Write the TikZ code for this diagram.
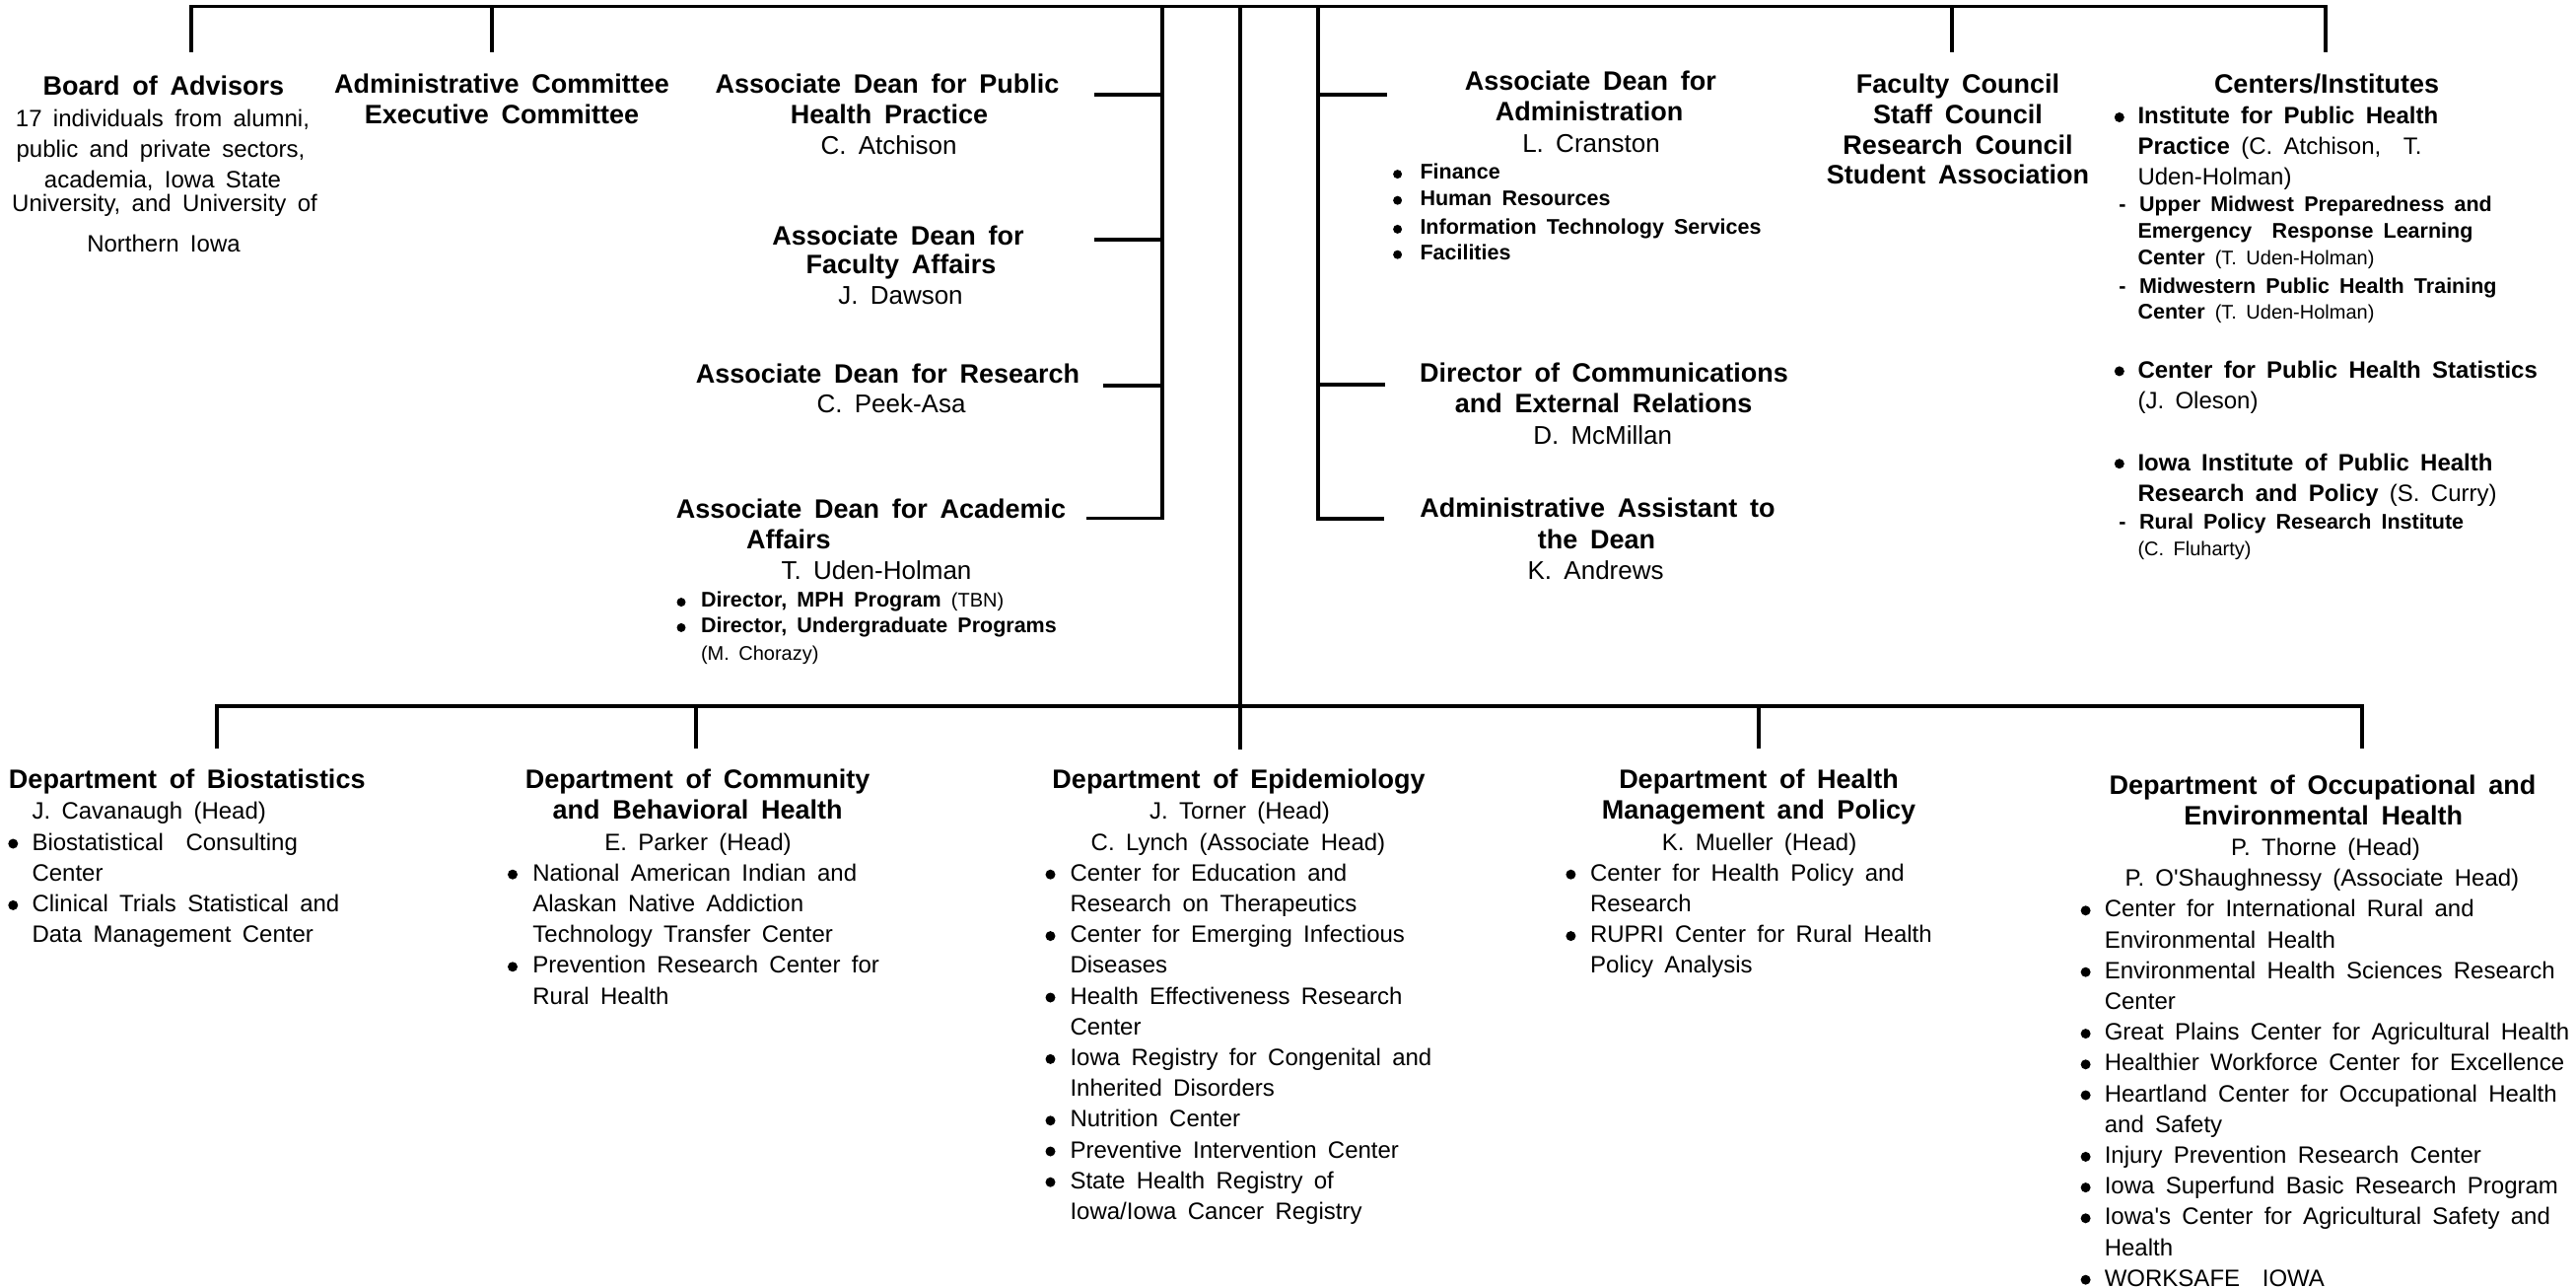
\documentclass[tikz,border=0pt]{standalone}
\usepackage{fontspec}
\setmainfont{Liberation Sans}[WordSpace=1.7,Ligatures=TeXOff]
\newcounter{ln}
\newcommand\T[5]{\stepcounter{ln}\node[#1,anchor=#2] (t\arabic{ln}) at (#3,#4) {#5};}
\newcommand\smreg{\fontsize{20}{27}\selectfont\mdseries}
\newcommand\txreg{\fontsize{24}{31}\selectfont\mdseries}
\tikzset{
  every node/.style={inner sep=0pt,outer sep=0pt},
  hd/.style={font=\fontsize{27}{31}\selectfont\bfseries},
  nm/.style={font=\fontsize{26}{31}\selectfont},
  tx/.style={font=\fontsize{24}{31}\selectfont},
  cb/.style={font=\fontsize{24}{31}\selectfont\bfseries},
  sb/.style={font=\fontsize{21.5}{27}\selectfont\bfseries},
  sr/.style={font=\fontsize{20}{27}\selectfont},
  wire/.style={line width=3.3pt,line join=miter},
}
\begin{document}
\begin{tikzpicture}[x=1pt,y=-1pt]
\fill[white] (0,0) rectangle (2613,1306);
\useasboundingbox (0,0) rectangle (2613,1306);

% ---------- connector coordinates ----------
\coordinate (bA) at (194,6.3);   \coordinate (bAd) at (194,53);
\coordinate (cA) at (499,6.3);   \coordinate (cAd) at (499,53);
\coordinate (lv) at (1179,6.3);  \coordinate (lvb) at (1179,525.5);
\coordinate (mv) at (1258,6.3);  \coordinate (mvb) at (1258,760);
\coordinate (rv) at (1337,6.3);  \coordinate (rvb) at (1337,526);
\coordinate (fc) at (1980,6.3);  \coordinate (fcd) at (1980,53);
\coordinate (ci) at (2359,6.3);  \coordinate (cid) at (2359,53);
\coordinate (s1a) at (1179,96);  \coordinate (s1) at (1110,96);
\coordinate (s2a) at (1179,243); \coordinate (s2) at (1110,243);
\coordinate (s3a) at (1179,391); \coordinate (s3) at (1119,391);
\coordinate (s4) at (1102,525.5);
\coordinate (r1a) at (1337,96);  \coordinate (r1) at (1407,96);
\coordinate (r2a) at (1337,390); \coordinate (r2) at (1405,390);
\coordinate (r3) at (1404,526);
\coordinate (d1) at (220,716);   \coordinate (d1d) at (220,759);
\coordinate (d2) at (706,716);   \coordinate (d2d) at (706,759);
\coordinate (d4) at (1784,716);  \coordinate (d4d) at (1784,759);
\coordinate (d5) at (2396,716);  \coordinate (d5d) at (2396,759);

\draw[wire] (bAd) -- (bA) -- (ci) -- (cid);
\draw[wire] (cA) -- (cAd);
\draw[wire] (fc) -- (fcd);
\draw[wire] (lv) -- (lvb) -- (s4);
\draw[wire] (s1a) -- (s1);
\draw[wire] (s2a) -- (s2);
\draw[wire] (s3a) -- (s3);
\draw[wire] (rv) -- (rvb) -- (r3);
\draw[wire] (r1a) -- (r1);
\draw[wire] (r2a) -- (r2);
\draw[wire] (mv) -- (mvb);
\draw[wire] (d1d) -- (d1) -- (d5) -- (d5d);
\draw[wire] (d2) -- (d2d);
\draw[wire] (d4) -- (d4d);

% ---------- Board of Advisors ----------
\T{hd}{base}{166}{96.5}{Board of Advisors}
\T{tx}{base}{165}{128}{17 individuals from alumni,}
\T{tx}{base}{163}{159.5}{public and private sectors,}
\T{tx}{base}{165}{190.8}{academia, Iowa State}
\T{tx}{base}{167}{214.5}{University, and University of}
\T{tx}{base}{166}{255}{Northern Iowa}

% ---------- Committees ----------
\T{hd}{base}{509}{94}{Administrative Committee}
\T{hd}{base}{509}{125.8}{Executive Committee}

% ---------- Left associate deans ----------
\T{hd}{base}{900}{94}{Associate Dean for Public}
\T{hd}{base}{902}{125.4}{Health Practice}
\T{nm}{base}{901.5}{156.6}{C. Atchison}

\T{hd}{base}{911}{248.2}{Associate Dean for}
\T{hd}{base}{914}{277}{Faculty Affairs}
\T{nm}{base}{913.5}{308}{J. Dawson}

\T{hd}{base}{900.6}{388}{Associate Dean for Research}
\T{nm}{base}{904}{418.6}{C. Peek-Asa}

\T{hd}{base}{883.6}{525}{Associate Dean for Academic}
\T{hd}{base}{800}{556}{Affairs}
\T{nm}{base}{889}{587.7}{T. Uden-Holman}
\T{sb}{base west}{711}{615.6}{Director, MPH Program {\smreg(TBN)}}
\T{sb}{base west}{711}{641.4}{Director, Undergraduate Programs}
\T{sr}{base west}{711}{669.7}{(M. Chorazy)}
\foreach \yy in {610.6,636.4} \fill (691,\yy) circle[radius=4.5];

% ---------- Right associate deans ----------
\T{hd}{base}{1613.4}{91.2}{Associate Dean for}
\T{hd}{base}{1612}{122}{Administration}
\T{nm}{base}{1614}{154}{L. Cranston}
\T{sb}{base west}{1440.5}{181.6}{Finance}
\T{sb}{base west}{1440.5}{208.2}{Human Resources}
\T{sb}{base west}{1440.5}{237.4}{Information Technology Services}
\T{sb}{base west}{1440.5}{263.2}{Facilities}
\foreach \yy in {176.6,203.2,232.4,258.2} \fill (1417.6,\yy) circle[radius=4.5];

\T{hd}{base}{1627}{387.3}{Director of Communications}
\T{hd}{base}{1626.7}{418.6}{and External Relations}
\T{nm}{base}{1625.7}{450.6}{D. McMillan}

\T{hd}{base}{1620.5}{524.8}{Administrative Assistant to}
\T{hd}{base}{1619.5}{556}{the Dean}
\T{nm}{base}{1618.6}{587.3}{K. Andrews}

% ---------- Councils ----------
\T{hd}{base}{1986}{95}{Faculty Council}
\T{hd}{base}{1986}{125}{Staff Council}
\T{hd}{base}{1986}{156}{Research Council}
\T{hd}{base}{1986}{186.6}{Student Association}

% ---------- Centers / Institutes ----------
\T{hd}{base}{2360}{94}{Centers/Institutes}
\T{cb}{base west}{2168.5}{125.8}{Institute for Public Health}
\T{cb}{base west}{2168.5}{156.6}{Practice {\txreg(C. Atchison,\ \ T.}}
\T{tx}{base west}{2168.5}{187.4}{Uden-Holman)}
\T{sb}{base west}{2149.4}{214.5}{-}
\T{sb}{base west}{2170}{214.5}{Upper Midwest Preparedness and}
\T{sb}{base west}{2168.5}{241.6}{Emergency\ \ Response Learning}
\T{sb}{base west}{2168.5}{268.6}{Center {\smreg(T. Uden-Holman)}}
\T{sb}{base west}{2149.4}{297}{-}
\T{sb}{base west}{2170}{297}{Midwestern Public Health Training}
\T{sb}{base west}{2168.5}{323.6}{Center {\smreg(T. Uden-Holman)}}
\T{cb}{base west}{2168.5}{383.2}{Center for Public Health Statistics}
\T{tx}{base west}{2168.5}{414.4}{(J. Oleson)}
\T{cb}{base west}{2168.5}{477}{Iowa Institute of Public Health}
\T{cb}{base west}{2168.5}{508}{Research and Policy {\txreg(S. Curry)}}
\T{sb}{base west}{2149.4}{536}{-}
\T{sb}{base west}{2170}{536}{Rural Policy Research Institute}
\T{sr}{base west}{2168.5}{563}{(C. Fluharty)}
\foreach \yy in {119,376.4,470.2} \fill (2149.8,\yy) circle[radius=5];

% ---------- Department of Biostatistics ----------
\T{hd}{base west}{9}{799.6}{Department of Biostatistics}
\T{tx}{base west}{32.5}{830.8}{J. Cavanaugh (Head)}
\T{tx}{base west}{32.5}{862}{Biostatistical\ \ Consulting}
\T{tx}{base west}{32.5}{893.2}{Center}
\T{tx}{base west}{32.5}{924.4}{Clinical Trials Statistical and}
\T{tx}{base west}{32.5}{955.6}{Data Management Center}
\foreach \yy in {855.5,917.9} \fill (13.3,\yy) circle[radius=5];

% ---------- Department of Community and Behavioral Health ----------
\T{hd}{base}{707.6}{799.6}{Department of Community}
\T{hd}{base}{707.6}{830.8}{and Behavioral Health}
\T{tx}{base}{708}{862}{E. Parker (Head)}
\T{tx}{base west}{540.4}{893.2}{National American Indian and}
\T{tx}{base west}{540.4}{924.4}{Alaskan Native Addiction}
\T{tx}{base west}{540.4}{955.6}{Technology Transfer Center}
\T{tx}{base west}{540.4}{986.8}{Prevention Research Center for}
\T{tx}{base west}{540.4}{1018}{Rural Health}
\foreach \yy in {886.7,980.3} \fill (520,\yy) circle[radius=5];

% ---------- Department of Epidemiology ----------
\T{hd}{base}{1256.5}{799.6}{Department of Epidemiology}
\T{tx}{base}{1257.5}{830.8}{J. Torner (Head)}
\T{tx}{base}{1256}{862}{C. Lynch (Associate Head)}
\T{tx}{base west}{1085.5}{893.2}{Center for Education and}
\T{tx}{base west}{1085.5}{924.4}{Research on Therapeutics}
\T{tx}{base west}{1085.5}{955.6}{Center for Emerging Infectious}
\T{tx}{base west}{1085.5}{986.8}{Diseases}
\T{tx}{base west}{1085.5}{1018}{Health Effectiveness Research}
\T{tx}{base west}{1085.5}{1049.2}{Center}
\T{tx}{base west}{1085.5}{1080.4}{Iowa Registry for Congenital and}
\T{tx}{base west}{1085.5}{1111.6}{Inherited Disorders}
\T{tx}{base west}{1085.5}{1142.8}{Nutrition Center}
\T{tx}{base west}{1085.5}{1174}{Preventive Intervention Center}
\T{tx}{base west}{1085.5}{1205.2}{State Health Registry of}
\T{tx}{base west}{1085.5}{1236.4}{Iowa/Iowa Cancer Registry}
\foreach \yy in {886.7,949.1,1011.5,1073.9,1136.3,1167.5,1198.7} \fill (1065.5,\yy) circle[radius=5];

% ---------- Department of Health Management and Policy ----------
\T{hd}{base}{1784}{799.6}{Department of Health}
\T{hd}{base}{1784}{830.8}{Management and Policy}
\T{tx}{base}{1784.6}{862}{K. Mueller (Head)}
\T{tx}{base west}{1613}{893.2}{Center for Health Policy and}
\T{tx}{base west}{1613}{924.4}{Research}
\T{tx}{base west}{1613}{955.6}{RUPRI Center for Rural Health}
\T{tx}{base west}{1613}{986.8}{Policy Analysis}
\foreach \yy in {886.7,949.1} \fill (1593.4,\yy) circle[radius=5];

% ---------- Department of Occupational and Environmental Health ----------
\T{hd}{base}{2356}{805}{Department of Occupational and}
\T{hd}{base}{2356.7}{836.2}{Environmental Health}
\T{tx}{base}{2359}{867.4}{P. Thorne (Head)}
\T{tx}{base}{2355.4}{898.6}{P. O'Shaughnessy (Associate Head)}
\T{tx}{base west}{2134.8}{929.8}{Center for International Rural and}
\T{tx}{base west}{2134.8}{961}{Environmental Health}
\T{tx}{base west}{2134.8}{992.2}{Environmental Health Sciences Research}
\T{tx}{base west}{2134.8}{1023.4}{Center}
\T{tx}{base west}{2134.8}{1054.6}{Great Plains Center for Agricultural Health}
\T{tx}{base west}{2134.8}{1085.8}{Healthier Workforce Center for Excellence}
\T{tx}{base west}{2134.8}{1117}{Heartland Center for Occupational Health}
\T{tx}{base west}{2134.8}{1148.2}{and Safety}
\T{tx}{base west}{2134.8}{1179.4}{Injury Prevention Research Center}
\T{tx}{base west}{2134.8}{1210.6}{Iowa Superfund Basic Research Program}
\T{tx}{base west}{2134.8}{1241.8}{Iowa's Center for Agricultural Safety and}
\T{tx}{base west}{2134.8}{1273}{Health}
\T{tx}{base west}{2134.8}{1304.2}{WORKSAFE\ \ IOWA}
\foreach \yy in {923.3,985.7,1048.1,1079.3,1110.5,1172.9,1204.1,1235.3,1297.7} \fill (2115.6,\yy) circle[radius=5];
\end{tikzpicture}
\end{document}
